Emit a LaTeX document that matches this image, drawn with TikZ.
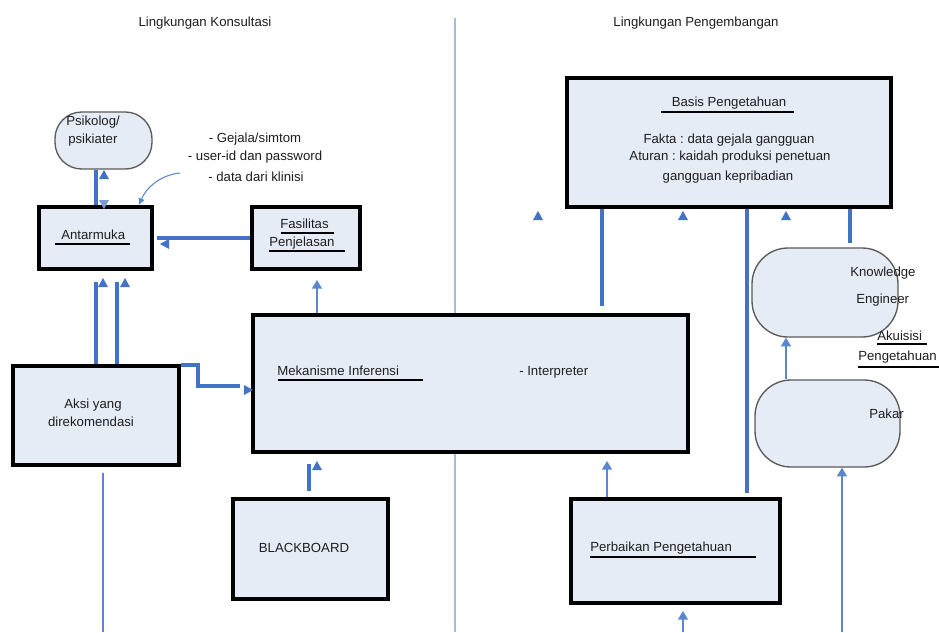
\documentclass[tikz,border=0pt]{standalone}
\usepackage{fontspec}
\setmainfont{Liberation Sans}
\usetikzlibrary{fit,arrows.meta}
\definecolor{boxfill}{HTML}{E6ECF6}
\definecolor{lnblue}{HTML}{4472C4}
\definecolor{thinblue}{HTML}{5B87CF}
\definecolor{divblue}{HTML}{A3BCE2}
\definecolor{rbord}{HTML}{5A5A5A}
\definecolor{txt}{HTML}{1E1E1E}
\frenchspacing
\begin{document}
\begin{tikzpicture}[x=0.75pt,y=-0.75pt,
  sqbox/.style={draw=black, line width=3pt, fill=boxfill, inner sep=0pt},
  rdbox/.style={draw=rbord, line width=1pt, fill=boxfill, inner sep=0pt, rounded corners=#1},
  lbl/.style={font=\fontsize{9.9}{12}\selectfont, text=txt, inner sep=0pt},
  bline/.style={draw=lnblue, line width=2.3pt},
  tline/.style={draw=thinblue, line width=1.1pt},
  tipped/.style={-{Triangle[width=7.5pt,length=6.5pt]}},
  uline/.style={draw=black, line width=1.6pt},
  divider/.style={draw=divblue, line width=1.5pt},
  triup/.pic={\fill[lnblue] (-5,4) -- (5,4) -- (0,-5) -- cycle;},
  tridn/.pic={\fill[lnblue!70] (-5,-4) -- (5,-4) -- (0,5) -- cycle;},
  trilt/.pic={\fill[lnblue] (4,-5) -- (4,5) -- (-5,0) -- cycle;},
  trirt/.pic={\fill[lnblue] (-4,-5) -- (-4,5) -- (5,0) -- cycle;}
]
\useasboundingbox (0,0) rectangle (939,632);
\fill[white] (0,0) rectangle (939,632);

% titles and divider
\node[lbl] (t1) at (205,23) {Lingkungan Konsultasi};
\node[lbl] (t2) at (696,23) {Lingkungan Pengembangan};
\draw[divider] (455,18) -- (455,632);

% boxes
\node[rdbox=20pt, fit={(55,112) (152,169)}] (psi) {};
\node[sqbox, fit={(39,207) (152,269)}] (ant) {};
\node[sqbox, fit={(252,207) (360,269)}] (fas) {};
\node[sqbox, fit={(13,366) (179,465)}] (aksi) {};
\node[sqbox, fit={(253,315) (688,452)}] (inf) {};
\node[sqbox, fit={(233,499) (388,599)}] (bb) {};
\node[sqbox, fit={(567,78) (891,207)}] (bas) {};
\node[rdbox=27pt, fit={(752,248) (898,337)}] (ke) {};
\node[rdbox=27pt, fit={(755,380) (900,467)}] (pak) {};
\node[sqbox, fit={(571,499) (780,603)}] (per) {};

% texts
\node[lbl, anchor=west] (psiA) at (66,122) {Psikolog/};
\node[lbl, anchor=west] (psiB) at (68,140) {psikiater};
\node[lbl] (g1) at (255,139) {- Gejala/simtom};
\node[lbl] (g2) at (255,157) {- user-id dan password};
\node[lbl] (g3) at (256,177) {- data dari klinisi};
\node[lbl, anchor=west] (antT) at (61,235) {Antarmuka};
\draw[uline] (55,244) -- (130,244);
\node[lbl, anchor=west] (fasA) at (280,224) {Fasilitas};
\draw[uline] (281,233) -- (334,233);
\node[lbl, anchor=west] (fasB) at (269,243) {Penjelasan};
\draw[uline] (269,251) -- (345,251);
\node[lbl] (aksiA) at (93,405) {Aksi yang};
\node[lbl] (aksiB) at (91,422) {direkomendasi};
\node[lbl, anchor=west] (infA) at (277,371) {Mekanisme Inferensi};
\draw[uline] (278,380) -- (423,380);
\node[lbl, anchor=west] (infB) at (519,372) {- Interpreter};
\node[lbl] (bbT) at (304,548) {BLACKBOARD};
\node[lbl] (basA) at (729,103) {Basis Pengetahuan};
\draw[uline] (661,112) -- (794,112);
\node[lbl] (basB) at (729,140) {Fakta : data gejala gangguan};
\node[lbl] (basC) at (730,157) {Aturan : kaidah produksi penetuan};
\node[lbl] (basD) at (728,177) {gangguan kepribadian};
\node[lbl, anchor=west] (keA) at (850,273) {Knowledge};
\node[lbl, anchor=west] (keB) at (856,300) {Engineer};
\node[lbl, anchor=west] (akA) at (877,336) {Akuisisi};
\draw[uline] (877,344) -- (927,344);
\node[lbl, anchor=west] (akB) at (858,357) {Pengetahuan};
\draw[uline] (858,367) -- (939,367);
\node[lbl, anchor=west] (pakT) at (869,414) {Pakar};
\node[lbl, anchor=west] (perT) at (590,548) {Perbaikan Pengetahuan};
\draw[uline] (590,557) -- (756,557);

% connectors
\draw[bline] (96,0 |- psi.south) -- (96,0 |- ant.north);
\coordinate (cs) at (180,173);
\draw[draw=thinblue, line width=0.8pt, -{Latex[width=5pt,length=5pt]}] (cs) .. controls (160,175) and (146,188) .. (139,0 |- ant.north);
\draw[bline] (fas.west) -- (157,0 |- fas.west);
\draw[bline] (96,0 |- aksi.north) -- (96,282);
\draw[bline] (117,0 |- aksi.north) -- (117,282);
\draw[bline] ([yshift=-0.75pt]aksi.north east) -| (198,386) -- (240,386);
\draw[tline, tipped] (317,0 |- inf.north) -- (317,280);
\draw[bline] (309,0 |- bb.north) ++(0,-6) -- (309,464);
\draw[bline] (602,0 |- bas.south) -- (602,306);
\draw[bline] (747,0 |- bas.south) -- (747,493);
\draw[bline] (850,0 |- bas.south) -- (850,243);
\draw[tline, tipped] (786,0 |- pak.north) -- (786,0 |- ke.south);
\draw[tline, tipped] (842,632) -- (842,0 |- pak.south);
\draw[tline, tipped] (607,0 |- per.north) -- (607,461);
\draw[tline, tipped] (683,632) -- (683,611);
\draw[tline] (103,473) -- (103,632);

% detached arrowheads
\pic at (104,175) {triup};
\pic at (104,204) {tridn};
\pic at (165,244) {trilt};
\pic at (248,390) {trirt};
\pic at (103,283) {triup};
\pic at (125,283) {triup};
\pic at (317,466) {triup};
\pic at (538,216) {triup};
\pic at (683,216) {triup};
\pic at (786,216) {triup};
\end{tikzpicture}
\end{document}
